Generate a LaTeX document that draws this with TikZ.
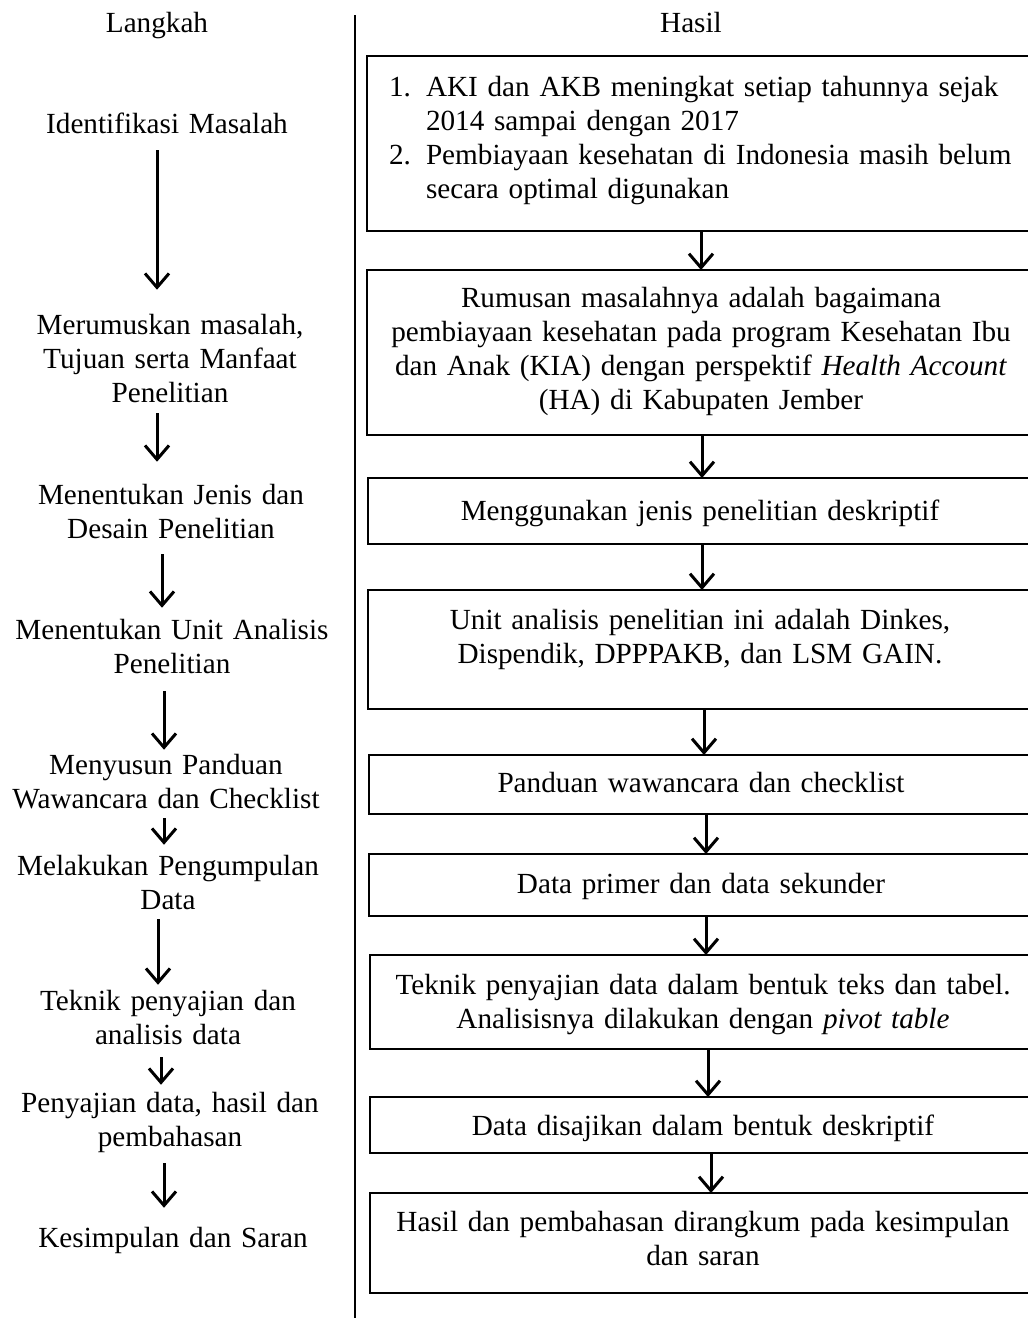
\documentclass[tikz,border=0pt]{standalone}
\usepackage{fontspec}
\setmainfont{Liberation Serif}
\usetikzlibrary{arrows.meta}
\begin{document}
\begin{tikzpicture}[x=1pt,y=-1pt,
  txt/.style={font=\fontsize{29.2}{34}\selectfont, inner sep=0pt, outer sep=0pt, align=center, text width=340pt, anchor=base},
  rtxt/.style={txt, text width=640pt},
  box/.style={draw, line width=2pt, inner sep=0pt, outer sep=0pt, minimum width=680pt, anchor=north west},
  arr/.style={line width=3pt, -{Straight Barb[length=14pt,width=24pt,line width=3pt]}},
  divline/.style={line width=1.5pt}]
\useasboundingbox (0,0) rectangle (1028,1318);
\clip (0,0) rectangle (1028,1318);

% headers
\node[txt] (hl) at (157,32) {Langkah};
\node[rtxt] (hr) at (691,32) {Hasil};
\coordinate (dtop) at (355,15);
\coordinate (dbot) at (355,1320);
\draw[divline] (dtop) -- (dbot);

% left column
\node[txt] (l1) at (167,133) {Identifikasi Masalah};
\node[txt] (l2) at (170,334) {Merumuskan masalah,\\Tujuan serta Manfaat\\Penelitian\hspace*{14pt}};
\node[txt] (l3) at (171,504) {Menentukan Jenis dan\\Desain Penelitian};
\node[txt] (l4) at (172,639) {Menentukan Unit Analisis\\Penelitian};
\node[txt] (l5) at (166,774) {Menyusun Panduan\\Wawancara dan Checklist};
\node[txt] (l6) at (168,875) {Melakukan Pengumpulan\\Data};
\node[txt] (l7) at (168,1010) {Teknik penyajian dan\\analisis data};
\node[txt] (l8) at (170,1112) {Penyajian data, hasil dan\\pembahasan};
\node[txt] (l9) at (173,1247) {Kesimpulan dan Saran};

\draw[arr, shorten <=17pt, shorten >=24pt] (l1.south -| 157,0) -- (l2.north -| 157,0);
\draw[arr, shorten <=11pt, shorten >=22pt] (l2.south -| 157,0) -- (l3.north -| 157,0);
\draw[arr, shorten <=16pt, shorten >=11pt] (l3.south -| 162,0) -- (l4.north -| 162,0);
\draw[arr, shorten <=18pt, shorten >=4pt] (l4.south -| 164,0) -- (l5.north -| 164,0);
\draw[arr, shorten <=10pt, shorten >=10pt] (l5.south -| 164,0) -- (l6.north -| 164,0);
\draw[arr, shorten <=10pt, shorten >=5pt] (l6.south -| 158,0) -- (l7.north -| 158,0);
\draw[arr, shorten <=13pt, shorten >=7pt] (l7.south -| 161,0) -- (l8.north -| 161,0);
\draw[arr, shorten <=11pt, shorten >=19pt] (l8.south -| 164,0) -- (l9.north -| 164,0);

% right column boxes
\node[box, minimum height=175pt] (b1) at (367,56) {};
\node[box, minimum height=165pt] (b2) at (367,270) {};
\node[box, minimum height=66pt] (b3) at (368,478) {};
\node[box, minimum height=119pt] (b4) at (368,590) {};
\node[box, minimum height=59pt] (b5) at (369,755) {};
\node[box, minimum height=62pt] (b6) at (369,854) {};
\node[box, minimum height=94pt] (b7) at (370,955) {};
\node[box, minimum height=56pt] (b8) at (370,1097) {};
\node[box, minimum height=100pt] (b9) at (370,1193) {};

% right column texts
\node[rtxt, align=left, anchor=base west] (t1) at (389,96)
 {\makebox[37pt][l]{1.}\makebox[584pt][s]{AKI dan AKB meningkat setiap tahunnya sejak}\\
  \hspace*{37pt}2014 sampai dengan 2017\\
  \makebox[37pt][l]{2.}\makebox[584pt][s]{Pembiayaan kesehatan di Indonesia masih belum}\\
  \hspace*{37pt}secara optimal digunakan};
\node[rtxt] (t2) at (701,307) {Rumusan masalahnya adalah bagaimana\\pembiayaan kesehatan pada program Kesehatan Ibu\\dan Anak (KIA) dengan perspektif \textit{Health Account}\\(HA) di Kabupaten Jember};
\node[rtxt] (t3) at (700,520) {Menggunakan jenis penelitian deskriptif};
\node[rtxt] (t4) at (700,629) {Unit analisis penelitian ini adalah Dinkes,\\Dispendik, DPPPAKB, dan LSM GAIN.};
\node[rtxt] (t5) at (701,792) {Panduan wawancara dan checklist};
\node[rtxt] (t6) at (701,893) {Data primer dan data sekunder};
\node[rtxt] (t7) at (703,994) {Teknik penyajian data dalam bentuk teks dan tabel.\\Analisisnya dilakukan dengan \textit{pivot table}};
\node[rtxt] (t8) at (703,1135) {Data disajikan dalam bentuk deskriptif};
\node[rtxt] (t9) at (703,1231) {Hasil dan pembahasan dirangkum pada kesimpulan\\dan saran};

% right arrows
\draw[arr] (b1.south -| 701,0) -- (b2.north -| 701,0);
\draw[arr] (b2.south -| 702,0) -- (b3.north -| 702,0);
\draw[arr] (b3.south -| 702,0) -- (b4.north -| 702,0);
\draw[arr] (b4.south -| 704,0) -- (b5.north -| 704,0);
\draw[arr] (b5.south -| 706,0) -- (b6.north -| 706,0);
\draw[arr] (b6.south -| 706,0) -- (b7.north -| 706,0);
\draw[arr] (b7.south -| 708,0) -- (b8.north -| 708,0);
\draw[arr] (b8.south -| 711,0) -- (b9.north -| 711,0);
\end{tikzpicture}
\end{document}
